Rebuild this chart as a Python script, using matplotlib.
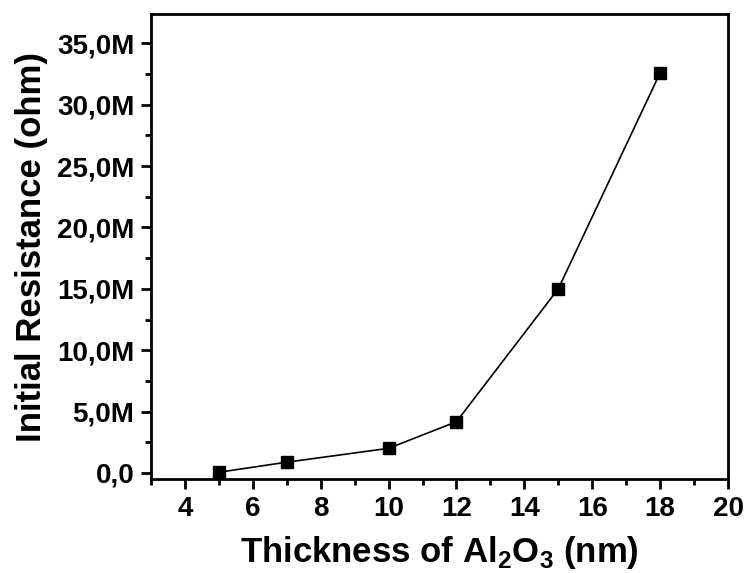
import numpy as np
import matplotlib
matplotlib.use('Agg')
import matplotlib.pyplot as plt
from matplotlib.ticker import FuncFormatter, MultipleLocator

plt.rcParams['font.family'] = ['Liberation Sans', 'DejaVu Sans']
plt.rcParams['mathtext.fontset'] = 'custom'
plt.rcParams['mathtext.rm'] = 'Liberation Sans:bold'
plt.rcParams['mathtext.bf'] = 'Liberation Sans:bold'

# 数据：Al2O3 厚度 (nm) 与 初始电阻 (ohm)
thickness = [5, 7, 10, 12, 15, 18]
resistance = [0.05e6, 0.87e6, 2.0e6, 4.17e6, 15.0e6, 32.6e6]


def fmt_m(v, pos):
    if abs(v) < 1:
        return '0,0'
    return f'{v / 1e6:.1f}M'.replace('.', ',')


fig = plt.figure(figsize=(7.48, 5.73), dpi=100)
ax = fig.add_axes([151 / 748, 1 - 479 / 573, 577 / 748, 465 / 573])

ax.plot(thickness, resistance, color='black', linewidth=1.2,
        marker='s', markersize=8.5)

ax.set_xlim(3, 20)
ax.set_ylim(-0.5e6, 37.4e6)
ax.xaxis.set_major_locator(MultipleLocator(2))
ax.xaxis.set_minor_locator(MultipleLocator(1))
ax.yaxis.set_major_locator(MultipleLocator(5e6))
ax.yaxis.set_minor_locator(MultipleLocator(2.5e6))
ax.yaxis.set_major_formatter(FuncFormatter(fmt_m))

for s in ax.spines.values():
    s.set_linewidth(2)
ax.tick_params(which='major', direction='out', length=7, width=2,
               labelsize=20, pad=5)
ax.tick_params(which='minor', direction='out', length=4, width=2)
for lab in ax.get_xticklabels() + ax.get_yticklabels():
    lab.set_fontweight('bold')

ax.set_xlabel(r'Thickness of Al$_2$O$_3$ (nm)', fontsize=25,
              fontweight='bold', labelpad=9)
ax.set_ylabel('Initial Resistance (ohm)', fontsize=25,
              fontweight='bold')
ax.yaxis.set_label_coords(-0.178, 0.5)

fig.savefig('out.png', dpi=100)
